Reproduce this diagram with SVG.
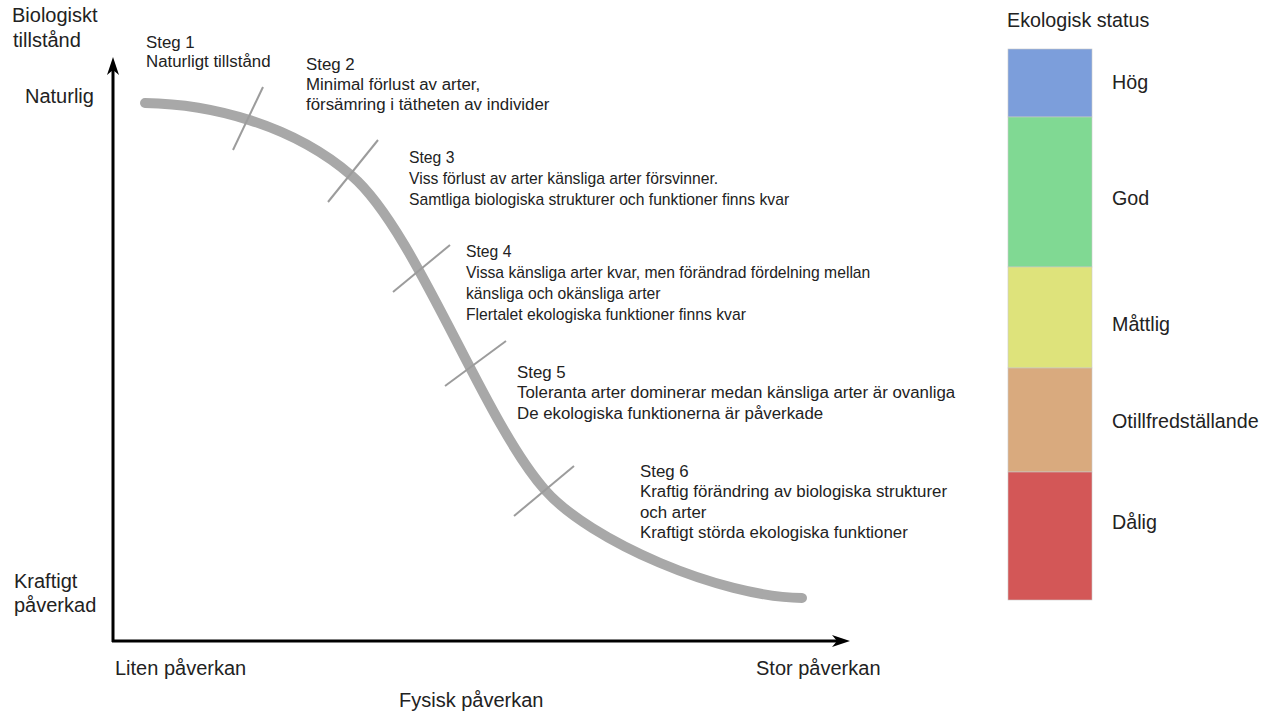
<svg xmlns="http://www.w3.org/2000/svg" width="1266" height="713" viewBox="0 0 1266 713">
<defs>
<style>
text{font-family:"Liberation Sans",Arial,sans-serif;fill:#222}
.lbl{font-size:20px}
.st{font-size:16.85px}
.st2{font-size:15.7px}
.leg{font-size:19.7px}
.axis{stroke:#000;stroke-width:3;fill:none}
.curve{stroke:#a8a8a8;stroke-width:10;fill:none;stroke-linecap:round}
.tick{stroke:#9c9c9c;stroke-width:2;fill:none}
.band{stroke:#c8c8c8;stroke-width:0.6}
</style>
<marker id="arr" markerUnits="userSpaceOnUse" markerWidth="18" markerHeight="12" viewBox="0 0 18 12" refX="8" refY="6" orient="auto">
<path d="M0,0 L18,6 L0,12 L5,6 Z" fill="#000"/>
</marker>
</defs>
<rect x="0" y="0" width="1266" height="713" fill="#fff"/>

<g id="connectors">
<line class="axis" x1="113" y1="642" x2="113" y2="67" marker-end="url(#arr)"/>
<line class="axis" x1="112" y1="641" x2="840" y2="641" marker-end="url(#arr)"/>
<path class="curve" d="M145,103 C210,104 292,124 352,176 C416,231 483,420 545,490 C590,541 720,597 802,598"/>
<line class="tick" x1="233" y1="150" x2="263" y2="87"/>
<line class="tick" x1="328" y1="202" x2="378" y2="140"/>
<line class="tick" x1="393" y1="292" x2="450" y2="245"/>
<line class="tick" x1="445" y1="386" x2="506" y2="341"/>
<line class="tick" x1="514" y1="516" x2="574" y2="466"/>
</g>

<g id="axis-labels">
<text class="lbl" x="12" y="22">Biologiskt</text>
<text class="lbl" x="13" y="47">tillstånd</text>
<text class="lbl" x="25" y="103">Naturlig</text>
<text class="lbl" x="14" y="588">Kraftigt</text>
<text class="lbl" x="14" y="612">påverkad</text>
<text class="lbl" x="115" y="675">Liten påverkan</text>
<text class="lbl" x="756" y="675">Stor påverkan</text>
<text class="lbl" x="399" y="707">Fysisk påverkan</text>
</g>

<g id="steg1">
<text class="st" x="146" y="48">Steg 1</text>
<text class="st" x="146" y="67">Naturligt tillstånd</text>
</g>
<g id="steg2">
<text class="st" x="306" y="70">Steg 2</text>
<text class="st" x="306" y="90">Minimal förlust av arter,</text>
<text class="st" x="306" y="110">försämring i tätheten av individer</text>
</g>
<g id="steg3">
<text class="st2" x="409" y="163">Steg 3</text>
<text class="st2" x="409" y="184">Viss förlust av arter känsliga arter försvinner.</text>
<text class="st2" x="409" y="205">Samtliga biologiska strukturer och funktioner finns kvar</text>
</g>
<g id="steg4">
<text class="st2" x="466" y="257">Steg 4</text>
<text class="st2" x="466" y="278">Vissa känsliga arter kvar, men förändrad fördelning mellan</text>
<text class="st2" x="466" y="299">känsliga och okänsliga arter</text>
<text class="st2" x="466" y="320">Flertalet ekologiska funktioner finns kvar</text>
</g>
<g id="steg5">
<text class="st" x="517" y="378">Steg 5</text>
<text class="st" x="517" y="398">Toleranta arter dominerar medan känsliga arter är ovanliga</text>
<text class="st" x="517" y="419">De ekologiska funktionerna är påverkade</text>
</g>
<g id="steg6">
<text class="st" x="640" y="477">Steg 6</text>
<text class="st" x="640" y="497">Kraftig förändring av biologiska strukturer</text>
<text class="st" x="640" y="518">och arter</text>
<text class="st" x="640" y="538">Kraftigt störda ekologiska funktioner</text>
</g>

<g id="legend">
<text class="leg" x="1007" y="27">Ekologisk status</text>
<g id="hog"><rect class="band" x="1008" y="49" width="84" height="68" fill="#7c9edb"/><text class="leg" x="1112" y="89">Hög</text></g>
<g id="god"><rect class="band" x="1008" y="117" width="84" height="150" fill="#80d993"/><text class="leg" x="1112" y="205">God</text></g>
<g id="mattlig"><rect class="band" x="1008" y="267" width="84" height="101" fill="#dee37b"/><text class="leg" x="1112" y="331">Måttlig</text></g>
<g id="otillfredstallande"><rect class="band" x="1008" y="368" width="84" height="104" fill="#d9aa7e"/><text class="leg" x="1112" y="428">Otillfredställande</text></g>
<g id="dalig"><rect class="band" x="1008" y="472" width="84" height="128" fill="#d35757"/><text class="leg" x="1112" y="529">Dålig</text></g>
</g>
</svg>
